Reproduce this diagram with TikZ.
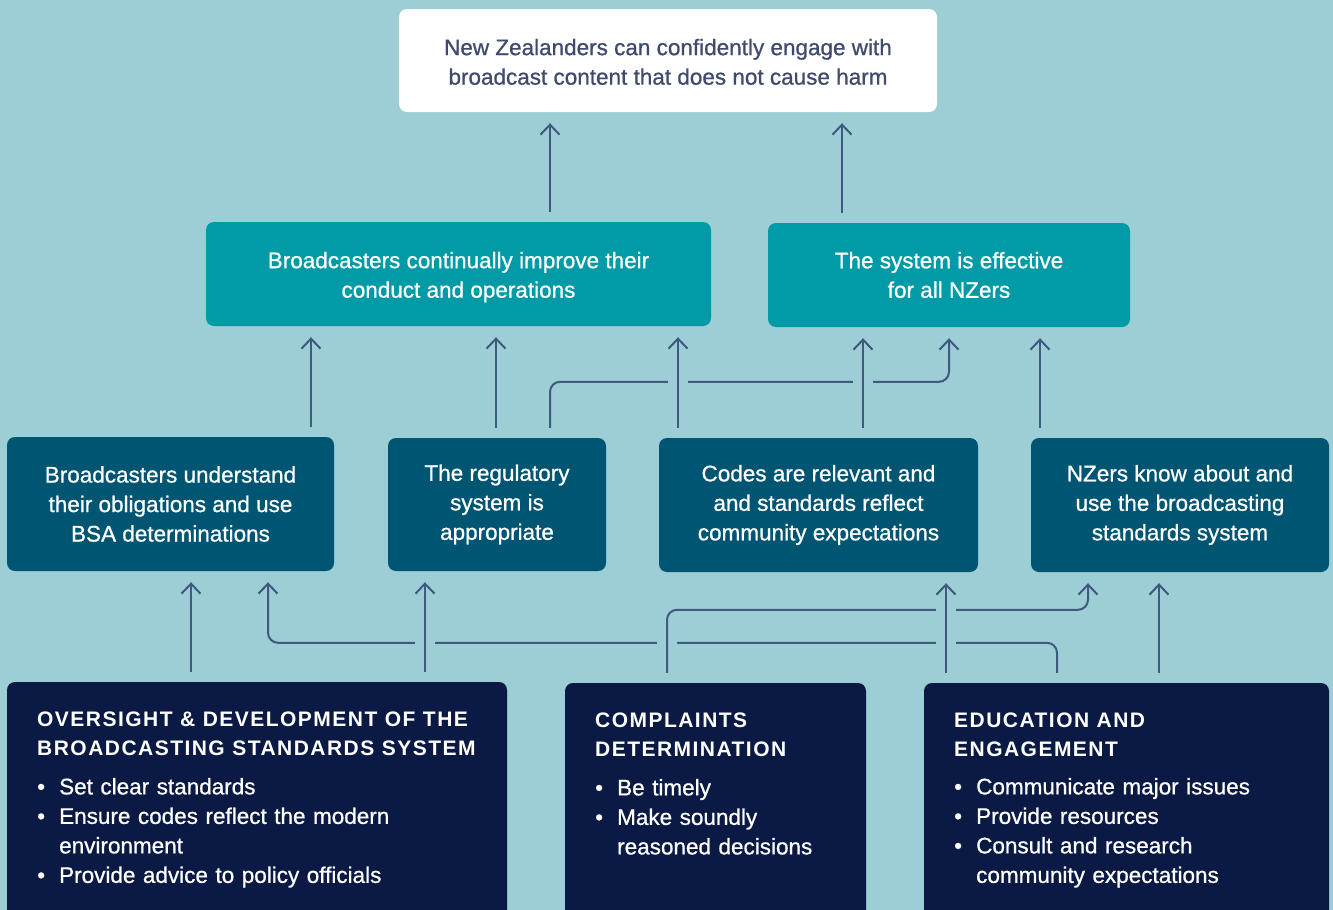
\documentclass[tikz,border=0pt]{standalone}
\usepackage{fontspec}
\setmainfont{Liberation Sans}[RawFeature={embolden=0.8}]
\newfontfamily\headfont[LetterSpace=7]{Liberation Sans}
\usetikzlibrary{arrows.meta}
\definecolor{bgblue}{HTML}{9DCDD5}
\definecolor{goaltext}{HTML}{3E4A6E}
\definecolor{teal}{HTML}{009BA6}
\definecolor{petrol}{HTML}{005573}
\definecolor{navy}{HTML}{0A1A45}
\definecolor{linec}{HTML}{3F5A7F}
\newcommand\bull{\makebox[22pt][l]{\textbullet}}
\newcommand\head[1]{{\fontsize{21}{29.5}\selectfont\headfont\bfseries #1}}
\begin{document}
\begin{tikzpicture}[x=1pt,y=-1pt,>={Straight Barb[length=10pt,width=19pt]}]
				\tikzstyle{box}=[rectangle,rounded corners=8pt,inner sep=0pt,align=center,text=white,font=\fontsize{22.5}{29.5}\selectfont]
				\tikzstyle{txt}=[anchor=north west,inner sep=0pt,align=left,text=white,font=\fontsize{22.5}{29.5}\selectfont]
				\tikzstyle{link}=[draw=linec,line width=2pt,shorten <=10pt,shorten >=11pt]
				\tikzstyle{bridge}=[preaction={draw=bgblue,line width=20pt,-}]
				\fill[bgblue] (0,0) rectangle (1333,910);
				\useasboundingbox (0,0) rectangle (1333,910);
				\draw 
				node[box,fill=white,text=goaltext,minimum width=538pt,minimum height=103pt](goal)at(668,60.5){\rule{0pt}{19pt}New Zealanders can confidently engage with\\broadcast content that does not cause harm}
				node[box,fill=teal,minimum width=505pt,minimum height=104pt](improve)at(458.5,274){\rule{0pt}{22.5pt}Broadcasters continually improve their\\conduct and operations}
				node[box,fill=teal,minimum width=362pt,minimum height=104pt](effective)at(949,275){The system is effective\\for all NZers}
				node[box,fill=petrol,minimum width=327pt,minimum height=134pt](understand)at(170.5,504){Broadcasters understand\\their obligations and use\\BSA determinations}
				node[box,fill=petrol,minimum width=218pt,minimum height=133pt](regulatory)at(497,504.5){The regulatory\\system is\\appropriate}
				node[box,fill=petrol,minimum width=319pt,minimum height=134pt](codes)at(818.5,505){Codes are relevant and\\and standards reflect\\community expectations}
				node[box,fill=petrol,minimum width=298pt,minimum height=134pt](know)at(1180,505){NZers know about and\\use the broadcasting\\standards system}
				node[box,fill=navy,minimum width=500pt,minimum height=248pt](oversight)at(257,806){}
				node[box,fill=navy,minimum width=301pt,minimum height=247pt](complaints)at(715.5,806.5){}
				node[box,fill=navy,minimum width=405pt,minimum height=247pt](education)at(1126.5,806.5){};
				
				\node[txt,text width=460pt](oversight-txt)at(37,711.5){\head{OVERSIGHT \& DEVELOPMENT OF THE\\BROADCASTING STANDARDS SYSTEM}\\[9pt]
					\bull Set clear standards\\\bull Ensure codes reflect the modern\\\hspace*{22pt}environment\\\bull Provide advice to policy officials};
				\node[txt,text width=270pt](complaints-txt)at(595,712.5){\head{COMPLAINTS\\DETERMINATION}\\[9pt]
					\bull Be timely\\\bull Make soundly\\\hspace*{22pt}reasoned decisions};
				\node[txt,text width=370pt](education-txt)at(954,712.5){\head{EDUCATION AND\\ENGAGEMENT}\\[8pt]
					\bull Communicate major issues\\\bull Provide resources\\\bull Consult and research\\\hspace*{22pt}community expectations};
				
				% elbows first, straight ones cross over them
				\draw[link,->,rounded corners=10pt]([xshift=53]regulatory.north)--++(0,-56)-|(effective.south);
				\draw[link,->,rounded corners=10pt]([xshift=-69.5]education.north)--++(0,-40)-|([xshift=97.5]understand.south);
				\draw[link,bridge,->,rounded corners=10pt]([xshift=-48.5]complaints.north)--++(0,-73)-|([xshift=-92]know.south);
				
				\draw[link,->]([xshift=91.5]improve.north)--([xshift=-118]goal.south);
				\draw[link,->]([xshift=-107]effective.north)--([xshift=174]goal.south);
				
				\draw[link,->]([xshift=140.5]understand.north)--([xshift=-147.5]improve.south);
				\draw[link,->]([xshift=-1]regulatory.north)--([xshift=37.5]improve.south);
				\draw[link,bridge,->]([xshift=-140.5]codes.north)--([xshift=219.5]improve.south);
				\draw[link,bridge,->]([xshift=44.5]codes.north)--([xshift=-86]effective.south);
				\draw[link,->]([xshift=-140]know.north)--([xshift=91]effective.south);
				
				\draw[link,->]([xshift=-66]oversight.north)--([xshift=20.5]understand.south);
				\draw[link,bridge,->]([xshift=168]oversight.north)--([xshift=-72]regulatory.south);
				\draw[link,bridge,->]([xshift=-180.5]education.north)--([xshift=127.5]codes.south);
				\draw[link,->]([xshift=32.5]education.north)--([xshift=-21]know.south);
\end{tikzpicture}
\end{document}
